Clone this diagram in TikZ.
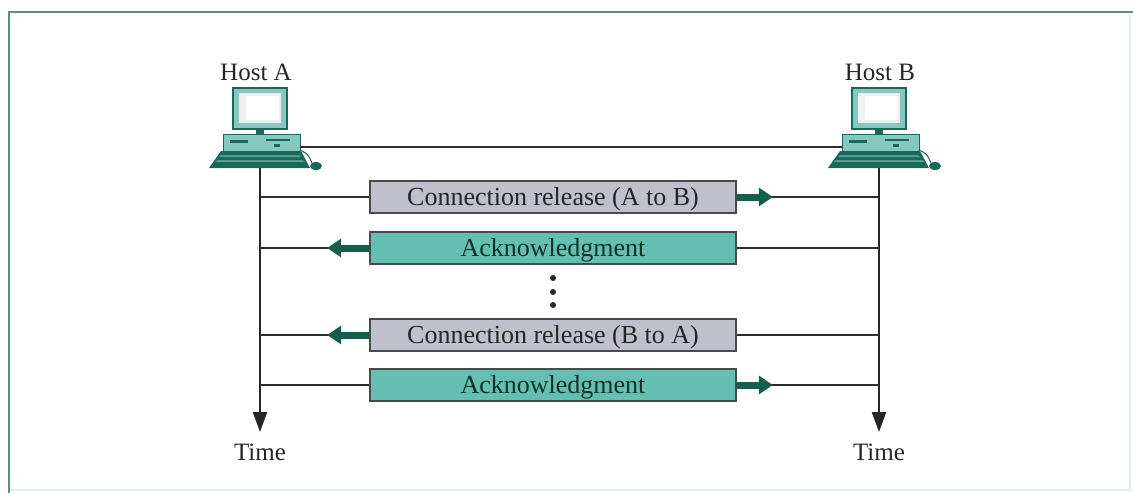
\documentclass[tikz,border=0pt]{standalone}
\usepackage{fontspec}
\setmainfont{Liberation Serif}
\usetikzlibrary{arrows.meta}

\definecolor{frameline}{RGB}{95,140,130}
\definecolor{framefaint}{RGB}{218,242,238}
\definecolor{tealfill}{RGB}{100,190,178}
\definecolor{grayfill}{RGB}{192,192,204}
\definecolor{boxline}{RGB}{70,75,75}
\definecolor{darkteal}{RGB}{20,95,75}
\definecolor{pclight}{RGB}{135,200,190}
\definecolor{pcdark}{RGB}{25,105,90}
\definecolor{wire}{RGB}{45,45,45}

\tikzset{
  labeltext/.style={font=\fontsize{25}{29}\selectfont, text=black!85, inner sep=0pt},
  msgbox/.style={draw=boxline, line width=1.6pt, minimum width=366pt,
    minimum height=32pt, inner sep=0pt, text height=19pt, text depth=3pt,
    font=\fontsize{26}{30}\selectfont},
  request/.style={msgbox, fill=grayfill, text=black!85},
  reply/.style={msgbox, fill=tealfill, text=darkteal!55!black},
  wireline/.style={draw=wire, line width=1.8pt},
  timeline/.style={draw=black!85, line width=2.4pt,
    -{Triangle[length=20pt,width=14pt]}},
  flow/.style={draw=darkteal, line width=7pt,
    -{Triangle[length=14pt,width=18pt]}},
  computer/.pic={
    % monitor
    \fill[pcdark] (-28,-21) rectangle (28,22);
    \fill[pclight] (-26,-19) rectangle (26,20);
    \fill[white!88!gray] (-21,-15) rectangle (21,15);
    \fill[white] (-14,-12) rectangle (19,12);
    \fill[pcdark] (-4,22) rectangle (4,26);
    % system unit
    \filldraw[fill=pclight, draw=pcdark, line width=1pt] (-37,26) rectangle (40,43);
    \fill[pcdark] (-30,32) rectangle (-12,35);
    \fill[pcdark] (6,31) rectangle (30,33);
    \fill[pcdark] (14,36) rectangle (20,39);
    % keyboard
    \fill[pcdark] (-39,43) -- (41,43) -- (50,60) -- (-51,60) -- cycle;
    \fill[pclight!55!pcdark] (-39,47) -- (39,47) -- (41,49) -- (-41,49) -- cycle;
    \fill[pclight!55!pcdark] (-43,52) -- (43,52) -- (45,54) -- (-45,54) -- cycle;
    % mouse
    \draw[pcdark, line width=1pt] (40,42) .. controls (48,46) .. (52,55);
    \fill[pcdark] (56,58) ellipse (6pt and 4pt);
    \coordinate (-west) at (-37,39);
    \coordinate (-east) at (40,39);
    \coordinate (-foot) at (0,60);
  }
}

\begin{document}
\begin{tikzpicture}[x=1pt, y=-1pt]
  \useasboundingbox (0,0) rectangle (1133,493);

  % frame
  \draw[framefaint, line width=2pt] (9,490) -- (1130,490) -- (1130,12);
  \draw[frameline, line width=2.5pt] (9,493) -- (9,12) -- (1133,12);

  % hosts
  \pic (A) at (260,108) {computer};
  \pic (B) at (879,108) {computer};
  \node[labeltext] (hostA) at (256,72) {Host A};
  \node[labeltext] (hostB) at (880,72) {Host B};
  \draw[wireline] (A-east) -- (B-west);

  % time axes
  \coordinate (A-end) at (260,432);
  \coordinate (B-end) at (879,432);
  \draw[timeline] (A-foot) -- (A-end);
  \draw[timeline] (B-foot) -- (B-end);
  \node[labeltext] (timeA) at (260,452) {Time};
  \node[labeltext] (timeB) at (879,452) {Time};

  % segments
  \node[request] (m1) at (553,197) {Connection release (A to B)};
  \node[reply]   (m2) at (553,248) {Acknowledgment};
  \node[request] (m3) at (553,335) {Connection release (B to A)};
  \node[reply]   (m4) at (553,385) {Acknowledgment};

  \foreach \m in {m1,m2,m3,m4}{
    \draw[wireline] (\m.west -| A-foot) -- (\m.west);
    \draw[wireline] (\m.east) -- (\m.east -| B-foot);
  }
  \draw[flow] (m1.east) -- ++(36,0);
  \draw[flow] (m2.west) -- ++(-42,0);
  \draw[flow] (m3.west) -- ++(-42,0);
  \draw[flow] (m4.east) -- ++(36,0);

  % ellipsis between the two exchanges
  \foreach \y in {278,292,305}
    \fill[black!85] (553,\y) circle (3pt);
\end{tikzpicture}
\end{document}
